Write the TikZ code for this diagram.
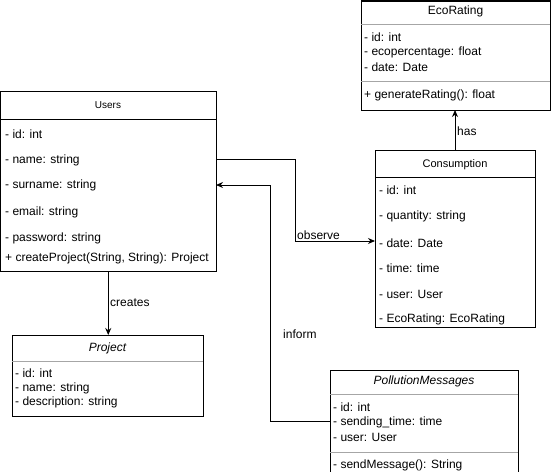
\documentclass[tikz,border=0pt]{standalone}
\usepackage{fontspec}
\setmainfont{Liberation Sans}
\usetikzlibrary{arrows.meta}
\begin{document}
\begin{tikzpicture}[x=1pt,y=-1pt,
  box/.style={draw=black, line width=1pt, inner sep=0pt, outer sep=0pt, anchor=north west},
  sepline/.style={draw=black!35, line width=1pt},
  darksep/.style={draw=black, line width=1pt},
  attr/.style={anchor=west, inner sep=0pt, font=\fontsize{12}{14}\selectfont},
  ttl/.style={inner sep=0pt, font=\fontsize{#1}{14}\selectfont},
  lbl/.style={anchor=west, inner sep=0pt, font=\fontsize{12}{14}\selectfont},
  arr/.style={-{Stealth[length=7pt,width=6pt]}, line width=1pt}]
\useasboundingbox (0,0) rectangle (551,471);
\clip (0,0) rectangle (551,471);
\fill[white] (0,0) rectangle (551,471);

% Users
\node[box, minimum width=215.5pt, minimum height=180pt] (users) at (0.5,91) {};
\draw[darksep] (users.west |- 0,119.5) -- (users.east |- 0,119.5);
\node[ttl=10] (ut) at (108,105) {Users};
\node[attr] (u1) at (5,134) {- id: int};
\node[attr] (u2) at (5,160) {- name: string};
\node[attr] (u3) at (5,185) {- surname: string};
\node[attr] (u4) at (5,212) {- email: string};
\node[attr] (u5) at (5,238) {- password: string};
\node[attr] (u6) at (5,258) {+ createProject(String, String): Project};

% EcoRating
\node[box, minimum width=189pt, minimum height=109pt] (eco) at (361,1) {};
\draw[sepline] (eco.west |- 0,24) -- (eco.east |- 0,24);
\draw[sepline] (eco.west |- 0,81) -- (eco.east |- 0,81);
\node[ttl=12] (et) at (455.5,11.5) {EcoRating};
\node[attr] (e1) at (364,37) {- id: int};
\node[attr] (e2) at (364,52) {- ecopercentage: float};
\node[attr] (e3) at (364,67) {- date: Date};
\node[attr] (e4) at (364,95) {+ generateRating(): float};

% Consumption
\node[box, minimum width=160pt, minimum height=177pt] (cons) at (375,150) {};
\draw[darksep] (cons.west |- 0,177) -- (cons.east |- 0,177);
\node[ttl=11] (ct) at (455,165) {Consumption};
\node[attr] (c1) at (379,190) {- id: int};
\node[attr] (c2) at (379,216) {- quantity: string};
\node[attr] (c3) at (379,243) {- date: Date};
\node[attr] (c4) at (379,268) {- time: time};
\node[attr] (c5) at (379,294) {- user: User};
\node[attr] (c6) at (379,319) {- EcoRating: EcoRating};

% Project
\node[box, minimum width=191pt, minimum height=81pt] (proj) at (12,335) {};
\draw[sepline] (proj.west |- 0,361) -- (proj.east |- 0,361);
\node[ttl=12] (pt) at (107.5,348) {\itshape Project};
\node[attr] (p1) at (15,373) {- id: int};
\node[attr] (p2) at (15,388) {- name: string};
\node[attr] (p3) at (15,402) {- description: string};

% PollutionMessages
\node[box, minimum width=188pt, minimum height=115pt] (poll) at (330,370) {};
\draw[sepline] (poll.west |- 0,394) -- (poll.east |- 0,394);
\draw[sepline] (poll.west |- 0,452) -- (poll.east |- 0,452);
\node[ttl=12] (plt) at (424,381) {\itshape PollutionMessages};
\node[attr] (m1) at (333,407) {- id: int};
\node[attr] (m2) at (333,422) {- sending\_time: time};
\node[attr] (m3) at (333,437) {- user: User};
\node[attr] (m4) at (333,465) {- sendMessage(): String};

% connectors
\coordinate (ob1) at (295,159);
\coordinate (ob2) at (295,241);
\coordinate (in1) at (270,421);
\coordinate (in2) at (270,185);
\draw[arr] (cons.north) -- (cons.north |- eco.south);
\draw[arr] (users.south) -- (users.south |- proj.north);
\draw[arr] (users.east |- ob1) -- (ob1) -- (ob2) -- (cons.west |- ob2);
\draw[arr] (poll.west |- in1) -- (in1) -- (in2) -- (users.east |- in2);

% labels
\node[lbl] (lhas) at (457,131) {has};
\node[lbl] (lcre) at (110,303) {creates};
\node[lbl] (lobs) at (297,235) {observe};
\node[lbl] (linf) at (283,334) {inform};
\end{tikzpicture}
\end{document}
